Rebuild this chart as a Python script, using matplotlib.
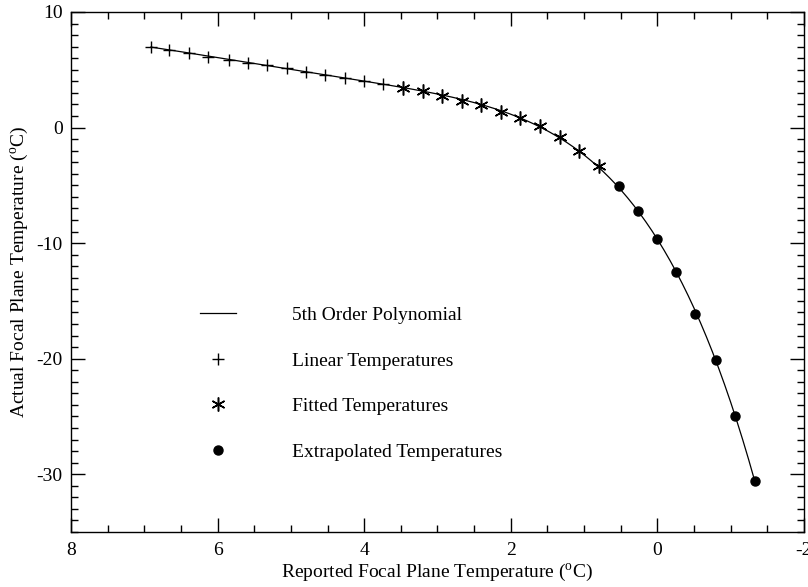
import numpy as np
import matplotlib
matplotlib.use("Agg")
import matplotlib.pyplot as plt

plt.rcParams['font.family'] = ['Liberation Serif', 'DejaVu Serif']
plt.rcParams['mathtext.fontset'] = 'custom'
plt.rcParams['mathtext.rm'] = 'Liberation Serif'
plt.rcParams['font.size'] = 14
plt.rcParams['axes.unicode_minus'] = False

# reported focal plane temperature (x) and actual temperature (y)
linear_x = [6.91, 6.66, 6.39, 6.13, 5.85, 5.59, 5.32, 5.06, 4.79, 4.53, 4.26, 4.00, 3.74]
linear_y = [7.00, 6.72, 6.43, 6.14, 5.85, 5.62, 5.41, 5.13, 4.84, 4.55, 4.27, 4.04, 3.78]

fitted_x = [3.47, 3.20, 2.94, 2.67, 2.41, 2.13, 1.87, 1.60, 1.33, 1.07, 0.80]
fitted_y = [3.46, 3.20, 2.77, 2.33, 1.96, 1.38, 0.81, 0.09, -0.86, -1.99, -3.37]

extrap_x = [0.53, 0.27, 0.01, -0.26, -0.52, -0.80, -1.06, -1.33]
extrap_y = [-5.10, -7.20, -9.65, -12.50, -16.10, -20.08, -24.94, -30.60]

# 5th order polynomial through all points
all_x = np.array(linear_x + fitted_x + extrap_x)
all_y = np.array(linear_y + fitted_y + extrap_y)
coef = np.polyfit(all_x, all_y, 5)
xx = np.linspace(all_x.min(), all_x.max(), 300)
yy = np.polyval(coef, xx)

fig = plt.figure(figsize=(8.08, 5.87), dpi=100)
ax = fig.add_axes([0.0879, 0.0937, 0.9071, 0.8859])

ax.plot(xx, yy, color='black', lw=0.9, label='5th Order Polynomial')
ax.plot(linear_x, linear_y, ls='none', marker='+', ms=9, mew=1.0, color='black',
        label='Linear Temperatures')
ax.plot(fitted_x, fitted_y, ls='none', marker=(6, 2, 0), ms=10, mew=1.1, color='black',
        label='Fitted Temperatures')
ax.plot(extrap_x, extrap_y, ls='none', marker='o', ms=6.5, color='black',
        label='Extrapolated Temperatures')

ax.set_xlim(8, -2)
ax.set_ylim(-35, 10)
ax.set_xticks([8, 6, 4, 2, 0, -2])
ax.set_yticks([10, 0, -10, -20, -30])
ax.set_xticks(np.arange(-2, 8.01, 0.5), minor=True)
ax.set_yticks(np.arange(-35, 10.01, 1), minor=True)
ax.tick_params(which='both', direction='in', top=True, right=True, width=1.0)
ax.tick_params(which='major', length=10)
ax.tick_params(axis='x', which='major', pad=7)
ax.tick_params(axis='y', which='major', pad=6)
ax.tick_params(which='minor', length=5)
for s in ax.spines.values():
    s.set_linewidth(1.0)

ax.set_xlabel(r'Reported Focal Plane Temperature ($^{\rm o}$C)', labelpad=2)
ax.set_ylabel(r'Actual Focal Plane Temperature ($^{\rm o}$C)', labelpad=4)

leg = ax.legend(loc='upper left', bbox_to_anchor=(0.176, 0.434), frameon=False,
                numpoints=1, handlelength=1.85, handletextpad=2.9,
                labelspacing=1.44, borderpad=0, borderaxespad=0)

fig.savefig('out.png', dpi=100)
